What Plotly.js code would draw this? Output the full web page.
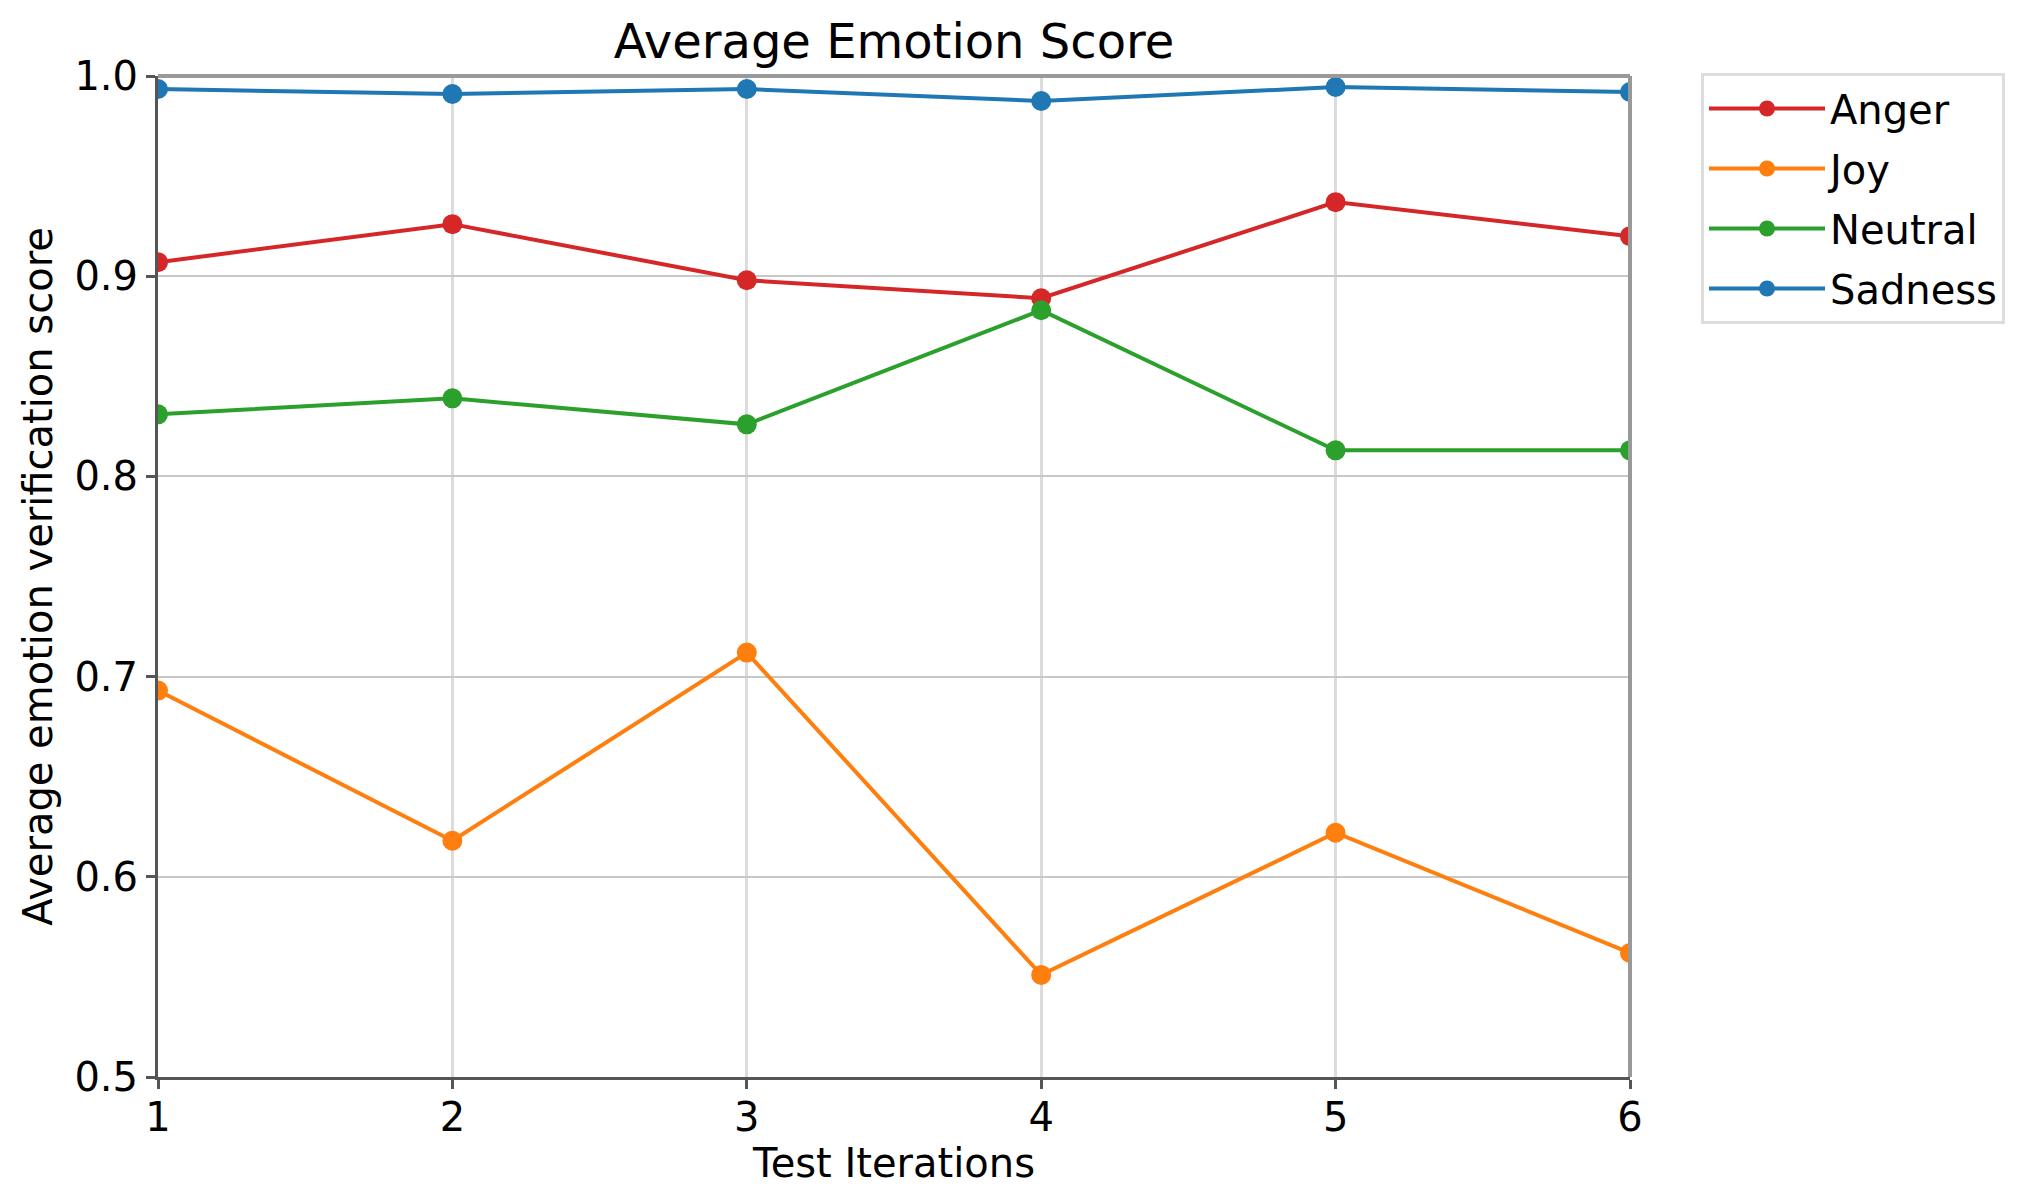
<!DOCTYPE html>
<html>
<head>
<meta charset="utf-8">
<script src="https://cdn.plot.ly/plotly-3.0.1.min.js"></script>
<style>html,body{margin:0;padding:0;background:#fff;}#chart{width:2041px;height:1204px;}</style>
</head>
<body>
<div id="chart"></div>
<script>
const iterations = [1, 2, 3, 4, 5, 6];
const seriesNames = ["Anger", "Joy", "Neutral", "Sadness"];
const anger   = [0.907, 0.926, 0.898, 0.889, 0.937, 0.920];
const joy     = [0.693, 0.618, 0.712, 0.551, 0.622, 0.562];
const neutral = [0.831, 0.839, 0.826, 0.883, 0.813, 0.813];
const sadness = [0.9935, 0.991, 0.9935, 0.9875, 0.9945, 0.992];
const yTicks = [0.5, 0.6, 0.7, 0.8, 0.9, 1.0];
const colors = ["#d62728", "#ff7f0e", "#2ca02c", "#1f77b4"];
const values = [anger, joy, neutral, sadness];

const font = "DejaVu Sans, Liberation Sans, sans-serif";
const traces = seriesNames.map((name, i) => ({
  x: iterations, y: values[i], name: name, type: "scatter", mode: "lines+markers",
  line: {color: colors[i], width: 4},
  marker: {color: colors[i], size: 20},
  legendgroup: name
}));

const layout = {
  width: 2041, height: 1204,
  paper_bgcolor: "#fff", plot_bgcolor: "#fff",
  margin: {l: 158, r: 411, t: 76, b: 127, pad: 0},
  font: {family: font, size: 40, color: "#000"},
  title: {text: "Average Emotion Score", font: {family: font, size: 48, color: "#000"},
          x: 0.5, xref: "paper", xanchor: "center", y: 1 - 41/1204, yref: "container", yanchor: "middle"},
  xaxis: {range: [1, 6], tickvals: iterations, ticktext: iterations.map(String),
          showgrid: true, gridcolor: "#dcdcdc", gridwidth: 3,
          showline: true, linecolor: "#555", linewidth: 3, zeroline: false,
          ticks: "outside", ticklen: 9, tickwidth: 3, tickcolor: "#555",
          ticklabelstandoff: -6,
          tickfont: {size: 40, family: font, color: "#000"},
          title: {text: "Test Iterations", font: {size: 40, family: font, color: "#000"}, standoff: 6}},
  yaxis: {range: [0.5, 1.0], tickvals: yTicks, ticktext: yTicks.map(v => v.toFixed(1)),
          showgrid: true, gridcolor: "#c8c8c8", gridwidth: 2,
          showline: true, linecolor: "#555", linewidth: 3, zeroline: false,
          ticks: "outside", ticklen: 9, tickwidth: 3, tickcolor: "#555",
          tickfont: {size: 40, family: font, color: "#000"},
          title: {text: "Average emotion verification score", font: {size: 40, family: font, color: "#000"}, standoff: 10}},
  legend: {x: 1701/2041, xref: "container", y: 1 - 73/1204, yref: "container",
           xanchor: "left", yanchor: "top", bordercolor: "#dddddd", borderwidth: 3,
           bgcolor: "#fff", font: {size: 40, family: font, color: "#000"},
           traceorder: "grouped", tracegroupgap: 5, itemwidth: 116},
  shapes: [
    {type: "line", xref: "paper", yref: "paper", x0: 0, x1: 1, y0: 1, y1: 1, line: {color: "#999", width: 4}},
    {type: "line", xref: "paper", yref: "paper", x0: 1, x1: 1, y0: 0, y1: 1, line: {color: "#999", width: 4}}
  ],
  showlegend: true
};

Plotly.newPlot("chart", traces, layout, {displayModeBar: false, staticPlot: true});
</script>
</body>
</html>
